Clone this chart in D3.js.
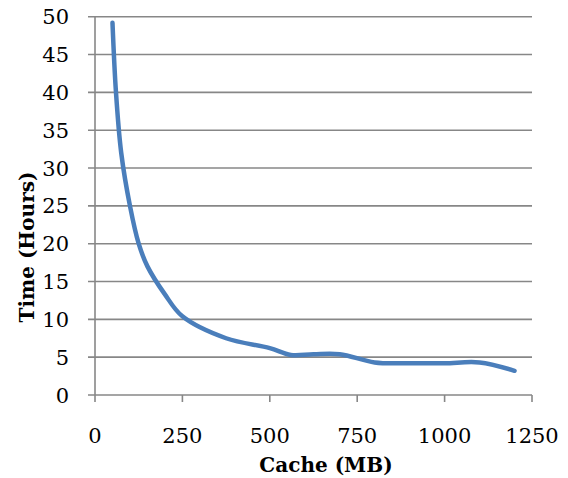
<!DOCTYPE html>
<html>
<head>
<meta charset="utf-8">
<script src="https://cdnjs.cloudflare.com/ajax/libs/d3/7.8.5/d3.min.js"></script>
<style>
  body { margin: 0; background: #fff; }
  text { font-family: "DejaVu Serif", serif; fill: #000; }
</style>
</head>
<body>
<div id="demo"></div>
<script>
// values
let cacheMB = [50, 60, 75, 100, 125, 150, 200, 250, 375, 500, 560, 625, 700, 800, 900, 1000, 1100, 1200];
let hours = [49.2, 40, 32, 25, 20, 17, 13.3, 10.4, 7.5, 6.2, 5.3, 5.4, 5.4, 4.3, 4.2, 4.2, 4.3, 3.2];
let xTicks = [0, 250, 500, 750, 1000, 1250];
let yTicks = [0, 5, 10, 15, 20, 25, 30, 35, 40, 45, 50];

let w = 568;
let h = 478;

let svg = d3.select("#demo")
  .append("svg")
  .attr("width", w)
  .attr("height", h);

let x = d3.scaleLinear()
  .domain([0, 1250])
  .range([95, 532]);

let y = d3.scaleLinear()
  .domain([0, 50])
  .range([395, 16.7]);

let gridColor = "#878787";

// horizontal gridlines, with the little tick stub on the left
svg.append("g")
  .selectAll("line")
  .data(yTicks)
  .enter().append("line")
  .attr("x1", 88)
  .attr("x2", x(1250))
  .attr("y1", (d) => y(d))
  .attr("y2", (d) => y(d))
  .attr("stroke", gridColor)
  .attr("stroke-width", 1.6);

// vertical axis line
svg.append("line")
  .attr("x1", x(0))
  .attr("x2", x(0))
  .attr("y1", y(50))
  .attr("y2", y(0) + 7)
  .attr("stroke", gridColor)
  .attr("stroke-width", 1.6);

// x ticks
svg.append("g")
  .selectAll("line")
  .data(xTicks.slice(1))
  .enter().append("line")
  .attr("x1", (d) => x(d))
  .attr("x2", (d) => x(d))
  .attr("y1", y(0))
  .attr("y2", y(0) + 7)
  .attr("stroke", gridColor)
  .attr("stroke-width", 1.6);

// y tick labels
svg.append("g")
  .selectAll("text")
  .data(yTicks)
  .enter().append("text")
  .attr("x", 69)
  .attr("y", (d) => y(d))
  .attr("dy", "0.36em")
  .attr("text-anchor", "end")
  .attr("font-size", 21)
  .text((d) => d);

// x tick labels
svg.append("g")
  .selectAll("text")
  .data(xTicks)
  .enter().append("text")
  .attr("x", (d) => x(d))
  .attr("y", 443)
  .attr("text-anchor", "middle")
  .attr("font-size", 21)
  .text((d) => d);

// axis titles
svg.append("text")
  .attr("x", 326)
  .attr("y", 472)
  .attr("text-anchor", "middle")
  .attr("font-size", 20)
  .attr("font-weight", "bold")
  .text("Cache (MB)");

svg.append("text")
  .attr("transform", "translate(34,247) rotate(-90)")
  .attr("text-anchor", "middle")
  .attr("font-size", 20)
  .attr("font-weight", "bold")
  .text("Time (Hours)");

// the curve (Excel style smoothing)
let line = d3.line()
  .x((d, i) => x(cacheMB[i]))
  .y((d) => y(d))
  .curve(d3.curveCatmullRom.alpha(0.5));

svg.append("path")
  .datum(hours)
  .attr("d", line)
  .attr("fill", "none")
  .attr("stroke", "#4a7ebb")
  .attr("stroke-width", 4.5)
  .attr("stroke-linecap", "round")
  .attr("stroke-linejoin", "round");
</script>
</body>
</html>
